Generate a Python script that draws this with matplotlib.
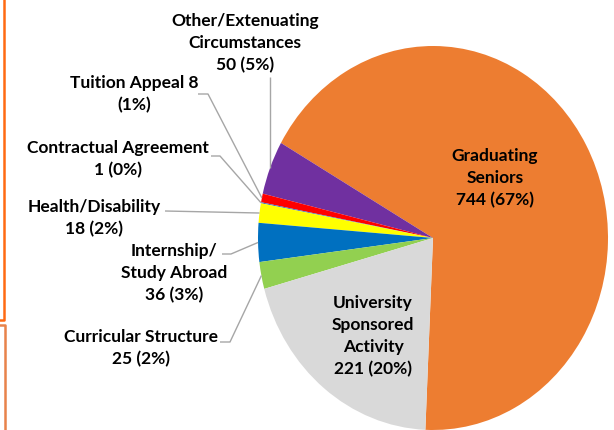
import numpy as np
import matplotlib
matplotlib.use("Agg")
from matplotlib import pyplot as plt
from matplotlib.lines import Line2D

# data
categories = ["Graduating Seniors", "Other/Extenuating Circumstances", "Tuition Appeal",
              "Contractual Agreement", "Health/Disability", "Internship/Study Abroad",
              "Curricular Structure", "University Sponsored Activity"]
counts = [744, 50, 8, 1, 18, 36, 25, 221]
percents = ["67%", "5%", "1%", "0%", "2%", "3%", "2%", "20%"]
colors = ["#ED7D31", "#7030A0", "#FF0000", "#4472C4", "#FFFF00", "#0070C0", "#92D050", "#D9D9D9"]

label_text = [
    "Graduating\nSeniors\n{} ({})",
    "Other/Extenuating\nCircumstances\n{} ({})",
    "Tuition Appeal {}\n({})",
    "Contractual Agreement\n{} ({})",
    "Health/Disability\n{} ({})",
    "Internship/\nStudy Abroad\n{} ({})",
    "Curricular Structure\n{} ({})",
    "University\nSponsored\nActivity\n{} ({})",
]

W, H = 614, 430
CX, CY = 433, 238      # pie centre, pixels from top-left
RX, RY = 175, 192      # pie radii in pixels (the pie is stretched)


def px(x, y):
    # pixel (from top-left) -> data coords of the unit pie
    return (x - CX) / RX, (CY - y) / RY


fig = plt.figure(figsize=(W / 100, H / 100), dpi=100)
ax = fig.add_axes([0, 0, 1, 1])
wedges, _ = ax.pie(counts, colors=colors, startangle=267.5, counterclock=True,
                   radius=1, wedgeprops=dict(linewidth=0))
ax.set_aspect("auto")
ax.set_xlim(-CX / RX, (W - CX) / RX)
ax.set_ylim(-(H - CY) / RY, CY / RY)
ax.axis("off")

font = dict(family=["Lato", "DejaVu Sans"], fontweight="bold", fontsize=12.5,
            color="black", linespacing=1.45)

# label centre (px) and leader path points (px) for each slice, None = inside
label_pos = [(495, 178), (245, 43), (134, 94), (118, 159), (94, 218),
             (174, 273), (141, 348), (373, 336)]
leaders = [None, "vertical", [(198, 94), (208, 94)], [(211, 156), (220, 156)],
           [(165, 211)], [(222, 254), (231, 254)], [(220, 342), (230, 342)], None]

for i, w in enumerate(wedges):
    txt = label_text[i].format(counts[i], percents[i])
    x, y = px(*label_pos[i])
    ax.text(x, y, txt, ha="center", va="center", **font)

    mid = np.deg2rad((w.theta1 + w.theta2) / 2)
    ex, ey = np.cos(mid), np.sin(mid)
    lead = leaders[i]
    if lead is None:
        continue
    if lead == "vertical":
        pts = [(ex, px(0, 77)[1]), (ex, ey)]
    else:
        pts = [px(a, b) for a, b in lead] + [(ex, ey)]
    xs, ys = zip(*pts)
    ax.plot(xs, ys, color="#A6A6A6", lw=1.0, solid_capstyle="butt")

# orange frame edges on the left
fig.add_artist(Line2D([4 / W, 4 / W, 0], [1, 1 - 320 / H, 1 - 320 / H],
                      transform=fig.transFigure, color="#FF6A13", lw=1.8))
fig.add_artist(Line2D([0, 5 / W, 5 / W], [1 - 325 / H, 1 - 325 / H, 0],
                      transform=fig.transFigure, color="#E8834A", lw=1.8))

fig.savefig("out.png", dpi=100)
